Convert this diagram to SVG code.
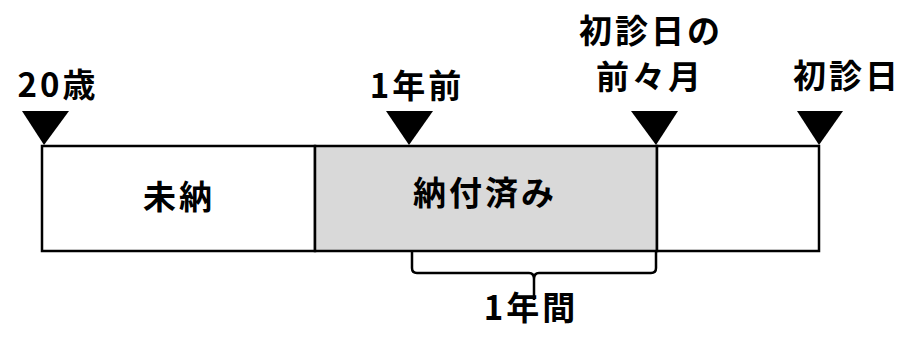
<svg xmlns="http://www.w3.org/2000/svg" width="904" height="342" viewBox="0 0 904 342">
<style>
.t{font-family:"Noto Sans CJK JP","Noto Sans CJK SC",sans-serif;font-weight:bold;font-size:33px;letter-spacing:3px;fill:#000;text-anchor:middle}
.box{stroke:#000;stroke-width:2.5}
.tri{fill:#000}
.ln{fill:none;stroke:#000;stroke-width:2.5;stroke-linejoin:round}
</style>
<rect width="904" height="342" fill="#fff"/>
<g id="seg-mino"><rect class="box" x="42" y="146" width="273" height="105" fill="#fff"/><text class="t" x="179" y="209">未納</text></g>
<g id="seg-nofu"><rect class="box" x="315" y="146" width="342" height="105" fill="#d9d9d9"/><text class="t" x="485" y="205">納付済み</text></g>
<g id="seg-rest"><rect class="box" x="657" y="146" width="162" height="105" fill="#fff"/></g>
<g id="m-20"><polygon class="tri" points="22,111 69,111 44,145"/><text class="t" x="58" y="97">20歳</text></g>
<g id="m-1y"><polygon class="tri" points="386,111 433,111 409,145"/><text class="t" x="417" y="98">1年前</text></g>
<g id="m-prev"><polygon class="tri" points="631,111 678,111 656,145"/><text class="t" x="651" y="43">初診日の</text><text class="t" x="650" y="89">前々月</text></g>
<g id="m-first"><polygon class="tri" points="797,111 843,111 819,145"/><text class="t" x="847" y="88">初診日</text></g>
<g id="connectors"><path class="ln" d="M412,252 V268 Q412,273 417,273 H529 Q534,273 534,279 V300 M534,279 Q534,273 539,273 H651 Q656,273 656,268 V252"/></g>
<g id="label-1yk"><text class="t" x="531" y="320">1年間</text></g>
</svg>
